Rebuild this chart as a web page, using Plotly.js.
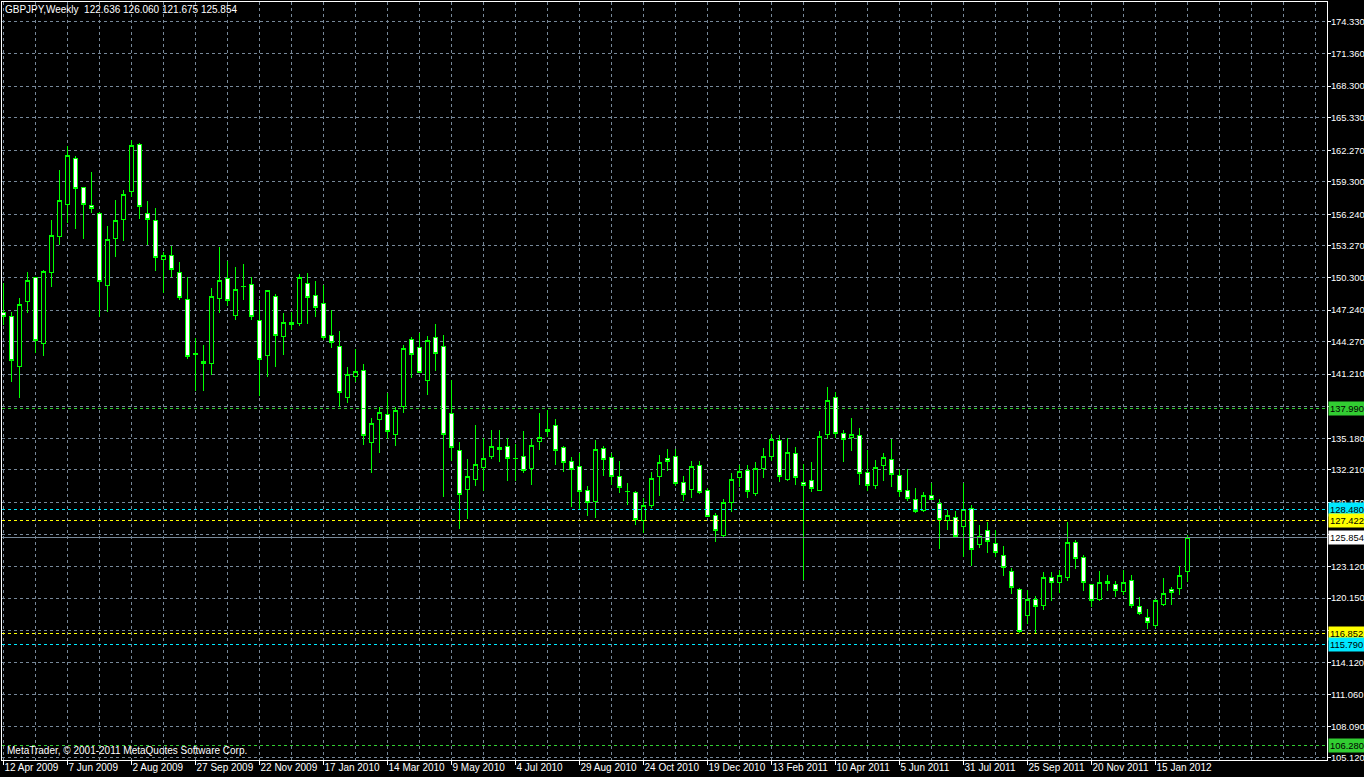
<!DOCTYPE html>
<html><head><meta charset="utf-8">
<script src="https://cdn.plot.ly/plotly-3.0.1.min.js"></script>
<style>html,body{margin:0;padding:0;background:#000;overflow:hidden}#chart{width:1364px;height:777px}
#chart .trace path{shape-rendering:crispEdges}#chart .shapelayer path{shape-rendering:crispEdges}</style>
</head><body><div id="chart"></div>
<script>
// ---------- DATA ----------
const chartTitle = "GBPJPY,Weekly  122.636 126.060 121.675 125.854";
const copyrightText = "MetaTrader, \u00a9 2001-2011 MetaQuotes Software Corp.";

const openP = [146.97,146.66,141.92,148.03,150.26,144.12,150.76,154.14,157.19,161.51,
158.79,157.10,156.34,149.53,153.95,155.74,158.37,162.83,156.34,155.71,
152.01,152.39,150.79,148.25,143.17,142.42,142.23,148.35,150.19,146.75,
149.50,149.66,146.28,142.95,148.54,144.74,146.09,145.99,149.76,148.63,
147.88,144.83,143.83,139.04,141.02,141.58,134.81,136.97,137.44,135.56,
138.15,144.49,143.74,140.64,144.68,143.83,137.53,134.05,130.39,131.33,
132.42,133.45,134.34,134.43,133.28,133.49,132.36,134.90,136.03,136.41,
134.34,133.02,132.55,130.29,129.22,134.24,133.40,131.61,130.17,130.11,
127.41,128.82,131.57,133.24,133.49,131.05,130.35,132.64,130.29,127.94,
126.03,129.13,131.48,132.17,129.97,132.33,133.45,135.00,131.29,133.77,
131.01,131.26,130.29,135.52,139.04,135.65,135.22,135.47,131.99,130.76,
132.61,133.21,131.70,130.29,129.45,128.41,129.82,129.07,127.43,127.78,
126.87,128.60,125.18,126.53,125.31,124.18,122.70,120.92,118.50,120.07,
119.44,122.05,121.58,122.07,125.40,123.99,121.45,120.04,121.74,121.45,
120.76,121.83,119.39,118.35,117.56,119.54,120.98,121.04,122.636];

const highP = [149.76,147.06,148.35,150.79,150.38,151.01,155.71,160.41,162.67,161.73,
158.85,160.22,156.49,155.15,157.59,158.53,163.23,162.92,157.50,156.84,
152.70,153.27,151.76,150.38,144.64,143.99,149.29,153.14,151.88,151.26,
151.57,150.32,148.16,149.15,148.73,146.94,147.03,150.63,150.73,149.98,
149.60,147.22,145.27,141.89,143.55,142.17,137.06,138.15,139.47,138.15,
143.96,144.68,145.11,144.80,145.93,144.90,140.67,134.84,133.24,136.43,
135.18,135.96,135.96,135.18,134.62,135.87,135.09,137.56,137.85,136.99,
134.46,133.40,133.77,130.70,135.02,134.46,133.83,133.05,130.95,130.23,
129.54,131.99,133.61,134.18,134.18,131.67,133.05,133.05,130.48,128.13,
129.47,131.89,132.67,132.67,132.93,134.24,135.56,135.49,135.18,134.34,
132.74,132.96,135.87,139.98,139.51,135.96,137.09,136.12,134.08,133.14,
133.80,135.09,132.27,132.27,130.51,130.11,131.01,129.45,128.44,128.35,
130.95,128.88,127.03,127.34,126.56,125.06,122.96,121.08,120.92,120.35,
122.63,122.63,122.77,127.34,125.62,124.21,121.50,122.68,122.33,121.77,
122.80,122.33,120.23,119.13,120.10,122.05,121.17,123.14,126.060];

const lowP = [145.84,140.51,138.94,146.94,143.23,142.95,149.44,153.36,155.46,154.86,
153.92,156.34,146.62,147.09,152.26,153.76,157.90,155.83,153.36,150.94,
148.87,150.38,148.19,142.67,139.66,139.66,141.11,147.00,147.62,146.34,
148.21,146.34,139.19,140.97,141.92,143.02,145.37,145.77,145.96,146.62,
144.43,143.65,138.15,138.53,140.51,134.58,131.95,133.83,135.09,134.46,
137.59,140.88,141.29,139.28,141.54,129.69,133.08,126.68,127.59,130.72,
130.25,133.26,132.98,131.20,131.20,131.95,130.82,134.11,135.33,132.70,
131.99,128.75,128.44,127.90,127.66,131.67,130.79,130.01,128.91,127.03,
126.31,128.66,129.79,132.14,130.70,129.32,129.54,129.97,127.78,125.46,
125.78,128.28,130.63,129.54,129.79,131.48,133.05,131.10,131.20,130.82,
121.86,130.16,130.25,135.15,135.24,132.96,134.02,130.82,130.25,130.39,
131.20,130.63,129.69,129.32,128.19,128.25,129.35,124.80,126.56,125.83,
124.05,123.17,124.89,124.43,124.00,122.23,120.54,116.90,117.72,116.91,
119.04,119.91,120.64,121.77,122.89,120.85,119.35,119.91,120.85,120.26,
120.45,119.25,118.54,117.25,117.32,119.41,119.51,120.45,121.675];

const closeP = [146.66,142.52,147.81,149.98,144.36,150.89,154.21,157.59,161.73,158.65,
157.19,156.78,149.91,153.83,155.62,158.13,162.67,156.96,155.78,152.17,
152.39,151.04,148.39,142.86,143.04,142.23,148.54,150.04,148.16,149.19,
149.46,146.66,142.61,149.10,144.87,146.09,145.87,150.32,148.44,147.46,
144.64,144.21,139.51,141.20,141.48,135.47,136.59,137.63,135.80,137.82,
143.65,143.08,141.39,144.40,143.18,135.56,134.34,129.91,131.61,132.74,
133.30,134.43,134.15,133.26,133.24,132.17,134.52,135.28,135.84,134.05,
132.93,132.27,130.20,129.16,134.15,133.21,131.57,130.54,130.16,127.53,
128.88,131.42,132.93,132.98,130.92,129.88,132.55,130.07,127.81,126.53,
129.16,131.33,132.08,130.16,132.36,133.49,135.09,131.57,133.87,131.52,
130.76,130.48,135.33,138.76,135.65,135.09,135.56,131.85,130.76,132.46,
133.40,131.80,130.20,129.54,128.28,129.82,129.41,127.53,127.94,125.93,
128.44,124.75,125.99,125.46,124.43,123.01,121.14,117.06,119.98,119.32,
122.11,121.61,122.27,125.40,123.86,121.58,119.91,121.61,121.51,120.85,
121.64,119.44,118.69,117.84,119.95,120.61,120.70,122.30,125.854];

// bar index of each week (weekly bars starting 12 Apr 2009)
const barIndex = openP.map((_, i) => i);

const xLabelBars = [0,8,16,24,32,40,48,56,64,72,80,88,96,104,112,120,128,136,144];
const xLabels = ["12 Apr 2009","7 Jun 2009","2 Aug 2009","27 Sep 2009","22 Nov 2009",
"17 Jan 2010","14 Mar 2010","9 May 2010","4 Jul 2010","29 Aug 2010","24 Oct 2010",
"19 Dec 2010","13 Feb 2011","10 Apr 2011","5 Jun 2011","31 Jul 2011","25 Sep 2011",
"20 Nov 2011","15 Jan 2012"];

const yTickVals = [174.33,171.36,168.30,165.33,162.27,159.30,156.24,153.27,150.30,147.24,
144.27,141.21,138.21,135.18,132.21,129.15,126.18,123.12,120.15,117.15,114.12,111.06,108.09,105.12];
const yTickText = ["174.330","171.360","168.300","165.330","162.270","159.300","156.240","153.270",
"150.300","147.240","144.270","141.210","","135.180","132.210","129.150","","123.120","120.150",
"","114.120","111.060","108.090","105.120"];

const levelVals  = [137.990, 128.480, 127.422, 125.854, 116.852, 115.790, 106.280];
const levelKinds = ["green","cyan","yellow","bid","yellow","cyan","green"];

// ---------- STYLE ----------
const FONT = "Liberation Sans, Arial, sans-serif";
const FS = 10;
const FSY = 9.4;
const GRID = "#778899";
const kindStyle = {
  green:  {line: "#32cd32", dash: "3px,3px", bg: "#32cd32", fg: "#000000"},
  cyan:   {line: "#00e8ff", dash: "3px,3px", bg: "#00e8ff", fg: "#000000"},
  yellow: {line: "#ffff00", dash: "3px,3px", bg: "#ffff00", fg: "#000000"},
  bid:    {line: "#778899", dash: "solid",   bg: "#ffffff", fg: "#000000"}
};

const trace = {
  type: "candlestick",
  x: barIndex, open: openP, high: highP, low: lowP, close: closeP,
  increasing: {line: {color: "#00ff00", width: 1}, fillcolor: "#000000"},
  decreasing: {line: {color: "#00ff00", width: 1}, fillcolor: "#ffffff"},
  whiskerwidth: 0,
  hoverinfo: "skip",
  showlegend: false
};

const shapes = levelVals.map((v, i) => {
  const s = kindStyle[levelKinds[i]];
  return {type: "line", xref: "paper", x0: 0, x1: 1, yref: "y", y0: v, y1: v,
          line: {color: s.line, width: 1, dash: s.dash}, layer: "above"};
});

const annotations = levelVals.map((v, i) => {
  const s = kindStyle[levelKinds[i]];
  return {xref: "paper", x: 1, xanchor: "left", xshift: 1, yref: "y", y: v, yanchor: "middle",
          text: v.toFixed(3), showarrow: false, bgcolor: s.bg, borderpad: 1,
          font: {family: FONT, size: FSY, color: s.fg}};
});
annotations.push({xref: "paper", x: 0, xanchor: "left", xshift: 3, yref: "paper", y: 0,
  yanchor: "bottom", yshift: 2, text: copyrightText, showarrow: false,
  font: {family: FONT, size: FS, color: "#ffffff"}});

const layout = {
  width: 1364, height: 777,
  margin: {l: 2, r: 37, t: 2, b: 17, pad: 0},
  paper_bgcolor: "#000000", plot_bgcolor: "#000000",
  title: {text: chartTitle, font: {family: FONT, size: FS, color: "#ffffff"},
          xref: "paper", x: 0, xanchor: "left", yref: "paper", y: 1, yanchor: "top",
          pad: {l: 3, t: 4}},
  boxgap: 0.5, boxgroupgap: 0,
  showlegend: false,
  xaxis: {
    range: [-0.1875, 165.4375], fixedrange: true,
    rangeslider: {visible: false},
    tickmode: "array", tickvals: xLabelBars, ticktext: xLabels,
    ticks: "outside", ticklen: 4, tickcolor: "#ffffff", tickwidth: 1,
    ticklabelposition: "outside right", tickangle: 0, ticklabelstandoff: -2,
    tickfont: {family: FONT, size: FS, color: "#ffffff"},
    showgrid: true, gridcolor: GRID, griddash: "3px,3px", gridwidth: 1,
    minor: {dtick: 4, tick0: 0, showgrid: true, gridcolor: GRID, griddash: "3px,3px", gridwidth: 1, ticks: ""},
    showline: true, linecolor: "#ffffff", linewidth: 1, mirror: true,
    zeroline: false, automargin: false
  },
  yaxis: {
    side: "right", range: [104.93, 176.21], fixedrange: true,
    tickmode: "array", tickvals: yTickVals, ticktext: yTickText,
    ticks: "outside", ticklen: 3, tickcolor: "#ffffff", tickwidth: 1,
    ticklabelstandoff: -2,
    tickfont: {family: FONT, size: FSY, color: "#ffffff"},
    showgrid: true, gridcolor: GRID, griddash: "3px,3px", gridwidth: 1,
    showline: true, linecolor: "#ffffff", linewidth: 1, mirror: true,
    zeroline: false, automargin: false
  },
  shapes: shapes,
  annotations: annotations,
  hovermode: false
};

Plotly.newPlot("chart", [trace], layout, {displayModeBar: false, staticPlot: true});
</script>
</body></html>
